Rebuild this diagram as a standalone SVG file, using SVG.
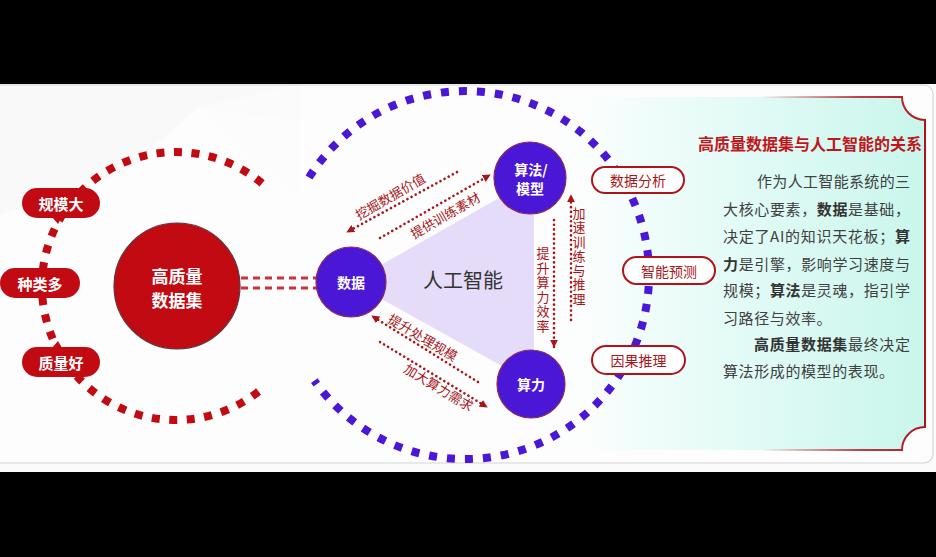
<svg xmlns="http://www.w3.org/2000/svg" width="936" height="557" viewBox="0 0 936 557">
<defs>
<style>
text{font-family:"Noto Sans CJK SC","Noto Sans",sans-serif;}
.red-pill{fill:#c10a12;}
.red-pill-t{fill:#fff;font-size:15px;font-weight:bold;text-anchor:middle;dominant-baseline:central;}
.node-b{fill:#4a17d6;stroke:#8a2a55;stroke-width:1.2;}
.node-t{fill:#fff;font-size:14px;font-weight:bold;text-anchor:middle;dominant-baseline:central;}
.dot{fill:none;stroke:#a8161c;stroke-width:2.6;stroke-linecap:round;stroke-dasharray:0.1 4.6;}
.lbl{fill:#a8161c;font-size:13px;text-anchor:middle;dominant-baseline:central;}
.vlbl{fill:#a8161c;font-size:13px;writing-mode:vertical-rl;text-anchor:start;}
.opill{fill:#fff;stroke:#b0141b;stroke-width:2;}
.opill-t{fill:#a8161c;font-size:14px;text-anchor:middle;dominant-baseline:central;}
.body{fill:#404040;font-size:15px;dominant-baseline:central;}
.b{font-weight:bold;fill:#333;}
</style>
<marker id="ah" viewBox="0 0 10 10" refX="9" refY="5" markerWidth="8" markerHeight="8" markerUnits="userSpaceOnUse" orient="auto">
<path d="M0,0 L10,5 L0,10 z" fill="#a8161c"/>
</marker>
<linearGradient id="panelG" x1="540" y1="0" x2="925" y2="0" gradientUnits="userSpaceOnUse">
<stop offset="0" stop-color="#ffffff" stop-opacity="0"/>
<stop offset="0.25" stop-color="#f1fdfb"/>
<stop offset="1" stop-color="#c9f6ec"/>
</linearGradient>
<linearGradient id="borderG" x1="760" y1="0" x2="925" y2="0" gradientUnits="userSpaceOnUse">
<stop offset="0" stop-color="#b0141b" stop-opacity="0"/>
<stop offset="0.6" stop-color="#b0141b" stop-opacity="0.8"/>
<stop offset="1" stop-color="#b0141b"/>
</linearGradient>
</defs>

<!-- frame -->
<rect x="0" y="0" width="936" height="557" fill="#000"/>
<rect x="0" y="84" width="936" height="388" fill="#fbfbfb"/>
<polygon points="0,84 300,84 300,120 198,108 120,175 0,215" fill="#f2f2f3"/>
<polygon points="198,108 300,200 300,84" fill="#f7f7f8" opacity="0.6"/>
<rect x="-10" y="85" width="943" height="378" rx="9" fill="#ffffff" fill-opacity="0.55" stroke="#d6d6d6" stroke-width="1.2"/>

<!-- right panel -->
<g id="panel">
<path d="M300,97 H902 A23,23 0 0 0 925,120 V427 A23,23 0 0 0 902,450 H300 Z" fill="url(#panelG)"/>
<path d="M760,97 H902 A23,23 0 0 0 925,120 V427 A23,23 0 0 0 902,450 H760" fill="none" stroke="url(#borderG)" stroke-width="2"/>
</g>

<!-- dashed arcs -->
<path d="M262.1,183.4 A134,134 0 1 0 262.1,388.6" fill="none" stroke="#c10a12" stroke-width="8" stroke-dasharray="8 9.5"/>
<path d="M309,177.5 A184,184 0 1 1 314.3,380.6" fill="none" stroke="#4a17d6" stroke-width="8" stroke-dasharray="8 10"/>

<!-- triangle -->
<polygon id="ai-triangle" points="351,282 534,178 534,384" fill="#e4dcf8"/>
<text x="463" y="279" font-size="20" fill="#333" text-anchor="middle" dominant-baseline="central">人工智能</text>

<!-- connectors -->
<g id="connectors">
<line x1="241" y1="278" x2="318" y2="278" stroke="#c8323a" stroke-width="3" stroke-dasharray="7 5"/>
<line x1="241" y1="288" x2="318" y2="288" stroke="#c8323a" stroke-width="3" stroke-dasharray="7 5"/>
<path class="dot" d="M457,172 L347,232" marker-end="url(#ah)"/>
<path class="dot" d="M380,238 L490,175" marker-end="url(#ah)"/>
<path class="dot" d="M478,382 L372,316" marker-end="url(#ah)"/>
<path class="dot" d="M380,342 L487,407" marker-end="url(#ah)"/>
<path class="dot" d="M554,220 L554,347" marker-end="url(#ah)"/>
<path class="dot" d="M571,320 L571,195" marker-end="url(#ah)"/>
<text class="lbl" transform="translate(390,196) rotate(-30)">挖掘数据价值</text>
<text class="lbl" transform="translate(445,215) rotate(-30)">提供训练素材</text>
<text class="lbl" transform="translate(423,337) rotate(31)">提升处理规模</text>
<text class="lbl" transform="translate(439,387) rotate(31)">加大算力需求</text>
<text class="vlbl" x="543" y="246.5" letter-spacing="1.6">提升算力效率</text>
<text class="vlbl" x="579" y="206.5" letter-spacing="1.3">加速训练与推理</text>
</g>

<!-- left nodes -->
<g id="dataset">
<circle cx="177" cy="286" r="63" fill="#c10a12" stroke="#5a3a40" stroke-width="1.2"/>
<text x="177" y="275" fill="#fff" font-size="17" font-weight="bold" text-anchor="middle" dominant-baseline="central">高质量</text>
<text x="177" y="299" fill="#fff" font-size="17" font-weight="bold" text-anchor="middle" dominant-baseline="central">数据集</text>
</g>
<g id="scale">
<rect class="red-pill" x="22" y="188" width="78" height="30" rx="15"/>
<polygon class="red-pill" points="52,217 62,217 58,224"/>
<text class="red-pill-t" x="61" y="203">规模大</text>
</g>
<g id="variety">
<rect class="red-pill" x="0" y="268" width="80" height="30" rx="15"/>
<text class="red-pill-t" x="40" y="283">种类多</text>
</g>
<g id="quality">
<rect class="red-pill" x="22" y="347" width="78" height="30" rx="15"/>
<polygon class="red-pill" points="52,348 62,348 58,341"/>
<text class="red-pill-t" x="61" y="362">质量好</text>
</g>

<!-- blue nodes -->
<g id="data-node">
<circle class="node-b" cx="351" cy="282" r="35"/>
<text class="node-t" x="351" y="282">数据</text>
</g>
<g id="algo-node">
<circle class="node-b" cx="530" cy="178" r="36"/>
<text class="node-t"><tspan x="531" y="169">算法/</tspan><tspan x="530" y="188">模型</tspan></text>
</g>
<g id="compute-node">
<circle class="node-b" cx="531" cy="384" r="34"/>
<text class="node-t" x="531" y="384">算力</text>
</g>

<!-- right pills -->
<g id="analysis">
<rect class="opill" x="592" y="167" width="92" height="26" rx="13"/>
<text class="opill-t" x="638" y="180">数据分析</text>
</g>
<g id="prediction">
<rect class="opill" x="623" y="257" width="92" height="27" rx="13.5"/>
<text class="opill-t" x="669" y="270.5">智能预测</text>
</g>
<g id="causal">
<rect class="opill" x="592" y="346" width="93" height="28" rx="14"/>
<text class="opill-t" x="638.5" y="360">因果推理</text>
</g>

<!-- description -->
<g id="description">
<text x="698" y="143" fill="#c0171c" font-size="16" font-weight="bold" dominant-baseline="central" textLength="224" lengthAdjust="spacing">高质量数据集与人工智能的关系</text>
<text class="body" x="757" y="180" textLength="153" lengthAdjust="spacing">作为人工智能系统的三</text>
<text class="body" x="723" y="208" textLength="187" lengthAdjust="spacing">大核心要素，<tspan class="b">数据</tspan>是基础，</text>
<text class="body" x="723" y="235" textLength="187" lengthAdjust="spacing">决定了AI的知识天花板；<tspan class="b">算</tspan></text>
<text class="body" x="723" y="263" textLength="187" lengthAdjust="spacing"><tspan class="b">力</tspan>是引擎，影响学习速度与</text>
<text class="body" x="723" y="289" textLength="187" lengthAdjust="spacing">规模；<tspan class="b">算法</tspan>是灵魂，指引学</text>
<text class="body" x="723" y="317" letter-spacing="0.6">习路径与效率。</text>
<text class="body" x="754" y="343" textLength="156" lengthAdjust="spacing"><tspan class="b">高质量数据集</tspan>最终决定</text>
<text class="body" x="723" y="370" letter-spacing="0.6">算法形成的模型的表现。</text>
</g>
</svg>
